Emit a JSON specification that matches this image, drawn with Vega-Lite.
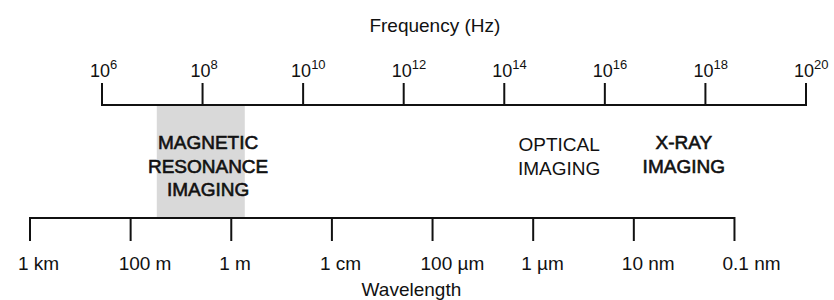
{
  "$schema": "https://vega.github.io/schema/vega-lite/v6.json",
  "width": 834,
  "height": 300,
  "autosize": "none",
  "padding": 0,
  "background": "white",
  "config": {"view": {"stroke": null}, "text": {"font": "Liberation Sans", "color": "#111"}},
  "datasets": {
    "freq": [
      {"logf": 6, "base": "10", "exp": "6"},
      {"logf": 8, "base": "10", "exp": "8"},
      {"logf": 10, "base": "10", "exp": "10"},
      {"logf": 12, "base": "10", "exp": "12"},
      {"logf": 14, "base": "10", "exp": "14"},
      {"logf": 16, "base": "10", "exp": "16"},
      {"logf": 18, "base": "10", "exp": "18"},
      {"logf": 20, "base": "10", "exp": "20"}
    ],
    "wave": [
      {"step": 0, "label": "1 km"},
      {"step": 1, "label": "100 m"},
      {"step": 2, "label": "1 m"},
      {"step": 3, "label": "1 cm"},
      {"step": 4, "label": "100 µm"},
      {"step": 5, "label": "1 µm"},
      {"step": 6, "label": "10 nm"},
      {"step": 7, "label": "0.1 nm"}
    ],
    "bands": [
      {"name": "MAGNETIC\nRESONANCE\nIMAGING", "kind": "mri", "from": 7.09, "to": 8.84, "center": 8.11, "shaded": true},
      {"name": "OPTICAL\nIMAGING", "kind": "optical", "from": 14.2, "to": 15.9, "center": 15.09, "shaded": false},
      {"name": "X-RAY\nIMAGING", "kind": "xray", "from": 17.0, "to": 18.1, "center": 17.57, "shaded": false}
    ]
  },
  "resolve": {"scale": {"x": "independent", "y": "independent"}},
  "layer": [
    {
      "data": {"name": "bands"},
      "transform": [{"filter": "datum.shaded"}],
      "mark": {"type": "rect", "color": "#d9d9d9"},
      "encoding": {
        "x": {"field": "from", "type": "quantitative", "scale": {"domain": [3.972, 20.557], "nice": false, "zero": false}, "axis": null},
        "x2": {"field": "to"},
        "y": {"datum": 106, "type": "quantitative", "scale": {"domain": [0, 300], "reverse": true, "nice": false, "zero": false}, "axis": null},
        "y2": {"datum": 218}
      }
    },
    {
      "data": {"values": [{"from": 6, "to": 20}]},
      "mark": {"type": "rule", "color": "#111", "strokeWidth": 2},
      "encoding": {
        "x": {"field": "from", "type": "quantitative", "scale": {"domain": [3.972, 20.557], "nice": false, "zero": false}, "axis": null},
        "x2": {"field": "to"},
        "y": {"datum": 105, "type": "quantitative", "scale": {"domain": [0, 300], "reverse": true, "nice": false, "zero": false}, "axis": null}
      }
    },
    {
      "data": {"name": "freq"},
      "mark": {"type": "rule", "color": "#111", "strokeWidth": 2},
      "encoding": {
        "x": {"field": "logf", "type": "quantitative", "scale": {"domain": [3.972, 20.557], "nice": false, "zero": false}, "axis": null},
        "y": {"datum": 106, "type": "quantitative", "scale": {"domain": [0, 300], "reverse": true, "nice": false, "zero": false}, "axis": null},
        "y2": {"datum": 83}
      }
    },
    {
      "data": {"name": "freq"},
      "mark": {"type": "text", "fontSize": 18, "align": "center", "baseline": "alphabetic", "dx": -2},
      "encoding": {
        "x": {"field": "logf", "type": "quantitative", "scale": {"domain": [3.972, 20.557], "nice": false, "zero": false}, "axis": null},
        "y": {"datum": 77, "type": "quantitative", "scale": {"domain": [0, 300], "reverse": true, "nice": false, "zero": false}, "axis": null},
        "text": {"field": "base"}
      }
    },
    {
      "data": {"name": "freq"},
      "mark": {"type": "text", "fontSize": 13, "align": "left", "baseline": "alphabetic", "dx": 8},
      "encoding": {
        "x": {"field": "logf", "type": "quantitative", "scale": {"domain": [3.972, 20.557], "nice": false, "zero": false}, "axis": null},
        "y": {"datum": 69, "type": "quantitative", "scale": {"domain": [0, 300], "reverse": true, "nice": false, "zero": false}, "axis": null},
        "text": {"field": "exp"}
      }
    },
    {
      "data": {"values": [{"title": "Frequency (Hz)", "at": 12.62}]},
      "mark": {"type": "text", "fontSize": 19, "align": "center", "baseline": "alphabetic"},
      "encoding": {
        "x": {"field": "at", "type": "quantitative", "scale": {"domain": [3.972, 20.557], "nice": false, "zero": false}, "axis": null},
        "y": {"datum": 32, "type": "quantitative", "scale": {"domain": [0, 300], "reverse": true, "nice": false, "zero": false}, "axis": null},
        "text": {"field": "title"}
      }
    },
    {
      "data": {"name": "bands"},
      "transform": [{"filter": "datum.kind !== 'optical'"}],
      "mark": {"type": "text", "fontSize": 19, "align": "center", "baseline": "alphabetic", "lineBreak": "\n", "lineHeight": 23.5, "stroke": "#111", "strokeWidth": 0.6},
      "encoding": {
        "x": {"field": "center", "type": "quantitative", "scale": {"domain": [3.972, 20.557], "nice": false, "zero": false}, "axis": null},
        "y": {"datum": 149, "type": "quantitative", "scale": {"domain": [0, 300], "reverse": true, "nice": false, "zero": false}, "axis": null},
        "text": {"field": "name"}
      }
    },
    {
      "data": {"name": "bands"},
      "transform": [{"filter": "datum.kind === 'optical'"}],
      "mark": {"type": "text", "fontSize": 19, "align": "center", "baseline": "alphabetic", "lineBreak": "\n", "lineHeight": 24},
      "encoding": {
        "x": {"field": "center", "type": "quantitative", "scale": {"domain": [3.972, 20.557], "nice": false, "zero": false}, "axis": null},
        "y": {"datum": 150.5, "type": "quantitative", "scale": {"domain": [0, 300], "reverse": true, "nice": false, "zero": false}, "axis": null},
        "text": {"field": "name"}
      }
    },
    {
      "data": {"values": [{"from": 0, "to": 7}]},
      "mark": {"type": "rule", "color": "#111", "strokeWidth": 2},
      "encoding": {
        "x": {"field": "from", "type": "quantitative", "scale": {"domain": [-0.298, 7.989], "nice": false, "zero": false}, "axis": null},
        "x2": {"field": "to"},
        "y": {"datum": 218, "type": "quantitative", "scale": {"domain": [0, 300], "reverse": true, "nice": false, "zero": false}, "axis": null}
      }
    },
    {
      "data": {"name": "wave"},
      "mark": {"type": "rule", "color": "#111", "strokeWidth": 2},
      "encoding": {
        "x": {"field": "step", "type": "quantitative", "scale": {"domain": [-0.298, 7.989], "nice": false, "zero": false}, "axis": null},
        "y": {"datum": 217, "type": "quantitative", "scale": {"domain": [0, 300], "reverse": true, "nice": false, "zero": false}, "axis": null},
        "y2": {"datum": 241}
      }
    },
    {
      "data": {"name": "wave"},
      "mark": {"type": "text", "fontSize": 19, "align": "left", "baseline": "alphabetic", "dx": -12},
      "encoding": {
        "x": {"field": "step", "type": "quantitative", "scale": {"domain": [-0.298, 7.989], "nice": false, "zero": false}, "axis": null},
        "y": {"datum": 270, "type": "quantitative", "scale": {"domain": [0, 300], "reverse": true, "nice": false, "zero": false}, "axis": null},
        "text": {"field": "label"}
      }
    },
    {
      "data": {"values": [{"title": "Wavelength", "at": 3.79}]},
      "mark": {"type": "text", "fontSize": 19, "align": "center", "baseline": "alphabetic"},
      "encoding": {
        "x": {"field": "at", "type": "quantitative", "scale": {"domain": [-0.298, 7.989], "nice": false, "zero": false}, "axis": null},
        "y": {"datum": 296, "type": "quantitative", "scale": {"domain": [0, 300], "reverse": true, "nice": false, "zero": false}, "axis": null},
        "text": {"field": "title"}
      }
    }
  ]
}
